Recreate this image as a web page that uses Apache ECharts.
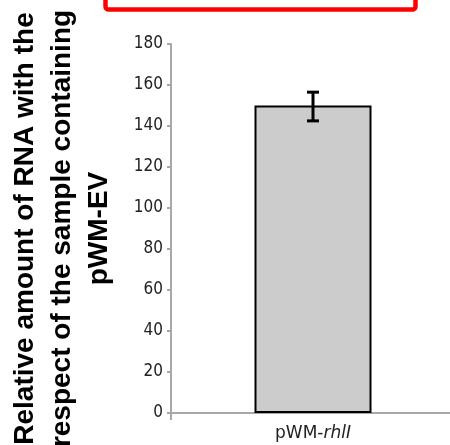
<!DOCTYPE html>
<html>
<head>
<meta charset="utf-8">
<script src="https://cdn.jsdelivr.net/npm/echarts@6/dist/echarts.min.js"></script>
<style>
  html, body { margin: 0; padding: 0; background: #fff; }
  #chart { width: 450px; height: 445px; }
</style>
</head>
<body>
<div id="chart"></div>
<script>
// Relative RNA level of the pWM-rhlI sample (pWM-EV = 100)
const categories = ['pWM-rhlI'];
const values = [150];
const errLow = [142.5];
const errHigh = [156.5];
const yTicks = { min: 0, max: 180, interval: 20 };

const chart = echarts.init(document.getElementById('chart'));

const axisGray = '#a8a8a8';
const tickFont = "'DejaVu Sans Condensed', 'DejaVu Sans', sans-serif";
const catFont = "'DejaVu Sans', sans-serif";

chart.setOption({
  animation: false,
  grid: { left: 171, right: -5, top: 44, bottom: 32, containLabel: false, outerBoundsMode: 'none' },
  xAxis: {
    type: 'category',
    data: categories,
    axisLine: { lineStyle: { color: axisGray, width: 2 } },
    axisTick: { show: true, length: 7, lineStyle: { color: axisGray, width: 2 } },
    axisLabel: {
      margin: 12,
      fontFamily: catFont,
      fontSize: 17,
      color: '#222',
      formatter: function () { return '{n|pWM-}{i|rhlI}'; },
      rich: {
        n: { fontFamily: catFont, fontSize: 17, color: '#222' },
        i: { fontFamily: catFont, fontSize: 17, color: '#222', fontStyle: 'italic' }
      }
    }
  },
  yAxis: {
    type: 'value',
    min: yTicks.min,
    max: yTicks.max,
    interval: yTicks.interval,
    splitLine: { show: false },
    axisLine: { show: true, lineStyle: { color: axisGray, width: 2 } },
    axisTick: { show: true, length: 4, lineStyle: { color: axisGray, width: 2 } },
    axisLabel: {
      margin: 8,
      fontFamily: tickFont,
      fontSize: 17,
      color: '#222'
    },
    name: 'Relative amount of RNA with the\nrespect of the sample containing\npWM-EV',
    nameLocation: 'middle',
    nameRotate: 90,
    nameGap: 53,
    nameTextStyle: {
      fontFamily: 'Liberation Sans',
      fontWeight: 'bold',
      fontSize: 28,
      lineHeight: 37,
      color: '#000',
      align: 'center'
    }
  },
  series: [
    {
      type: 'bar',
      data: values,
      barWidth: 117,
      itemStyle: { color: '#cccccc', borderColor: '#000', borderWidth: 2 }
    },
    {
      type: 'custom',
      data: values.map((v, i) => [i, errLow[i], errHigh[i]]),
      z: 10,
      renderItem: function (params, api) {
        const x = api.coord([api.value(0), 0])[0];
        const lo = api.coord([api.value(0), api.value(1)])[1];
        const hi = api.coord([api.value(0), api.value(2)])[1];
        const half = 6;
        const style = { stroke: '#000', lineWidth: 3 };
        return {
          type: 'group',
          children: [
            { type: 'line', shape: { x1: x, y1: lo, x2: x, y2: hi }, style: style },
            { type: 'line', shape: { x1: x - half, y1: lo, x2: x + half, y2: lo }, style: style },
            { type: 'line', shape: { x1: x - half, y1: hi, x2: x + half, y2: hi }, style: style }
          ]
        };
      }
    }
  ],
  graphic: [
    {
      type: 'rect',
      shape: { x: 105.5, y: -20, width: 310, height: 29.5, r: 3 },
      style: { fill: 'none', stroke: '#ff0000', lineWidth: 4.5 }
    }
  ]
});
</script>
</body>
</html>
